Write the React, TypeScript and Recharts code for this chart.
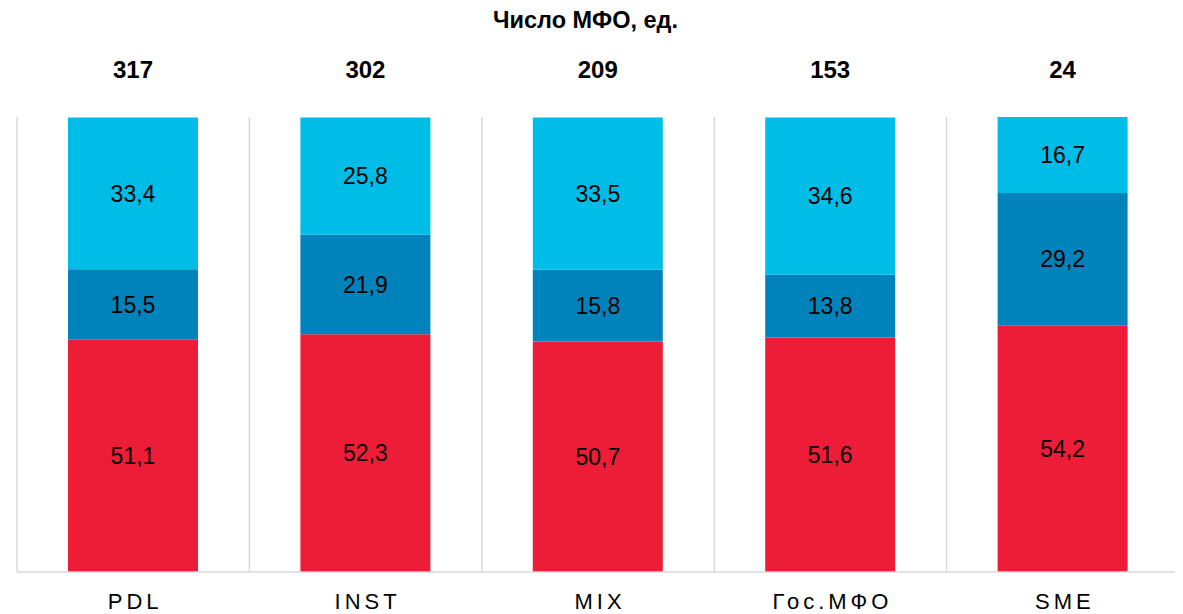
import React from "react";
import { BarChart, Bar, XAxis, YAxis, CartesianGrid, LabelList } from "recharts";

const categories = ["PDL", "INST", "MIX", "Гос.МФО", "SME"];
const counts = [317, 302, 209, 153, 24];
const redShare = [51.1, 52.3, 50.7, 51.6, 54.2];
const darkShare = [15.5, 21.9, 15.8, 13.8, 29.2];
const lightShare = [33.4, 25.8, 33.5, 34.6, 16.7];

const data = categories.map((c, i) => ({
  name: c,
  count: counts[i],
  red: redShare[i],
  dark: darkShare[i],
  light: lightShare[i],
}));

const fmt = (v: any) => String(v).replace(".", ",");

const FONT = "Arial, 'Liberation Sans', sans-serif";

const Tick = (props: any) => {
  const { x, y, payload } = props;
  return (
    <text x={x + 2} y={y + 29} textAnchor="middle" fontFamily={FONT} fontSize={22} letterSpacing={4} fill="#000">
      {payload.value}
    </text>
  );
};

const CountLabel = (props: any) => {
  const { x, width, index } = props;
  return (
    <text x={x + width / 2} y={70} textAnchor="middle" fontFamily={FONT} fontSize={24} fontWeight="bold" fill="#000">
      {counts[index]}
    </text>
  );
};

export default function App() {
  return (
    <div style={{ position: "relative", width: 1175, height: 606 }}>
      <div
        style={{
          position: "absolute",
          left: -10,
          width: 1175,
          top: 0,
          lineHeight: "24px",
          textAlign: "center",
          fontFamily: FONT,
          fontWeight: "bold",
          fontSize: 23.5,
        }}
      >
        Число МФО, ед.
      </div>
      <BarChart
        width={1175}
        height={606}
        data={data}
        margin={{ top: 109, right: 4, left: 9, bottom: 0 }}
        barSize={130}
      >
        <CartesianGrid
          horizontal={false}
          stroke="#d9d9d9"
          strokeWidth={1.5}
          verticalCoordinatesGenerator={(p: any) => {
            const off = p.offset;
            return [0, 1, 2, 3, 4, 5].map((i) => off.left + (i * off.width) / 5);
          }}
        />
        <XAxis
          dataKey="name"
          height={42}
          axisLine={{ stroke: "#d9d9d9", strokeWidth: 1.5 }}
          tickLine={false}
          tick={<Tick />}
          interval={0}
        />
        <YAxis hide domain={[0, 100]} />
        <Bar dataKey="red" stackId="a" fill="#ED1C37" isAnimationActive={false}>
          <LabelList dataKey="red" position="center" formatter={fmt} fill="#000" fontSize={23} fontFamily={FONT} />
        </Bar>
        <Bar dataKey="dark" stackId="a" fill="#0083BA" isAnimationActive={false}>
          <LabelList dataKey="dark" position="center" formatter={fmt} fill="#000" fontSize={23} fontFamily={FONT} />
        </Bar>
        <Bar dataKey="light" stackId="a" fill="#00BDE7" isAnimationActive={false}>
          <LabelList dataKey="light" position="center" formatter={fmt} fill="#000" fontSize={23} fontFamily={FONT} />
          <LabelList dataKey="count" content={<CountLabel />} />
        </Bar>
      </BarChart>
    </div>
  );
}
